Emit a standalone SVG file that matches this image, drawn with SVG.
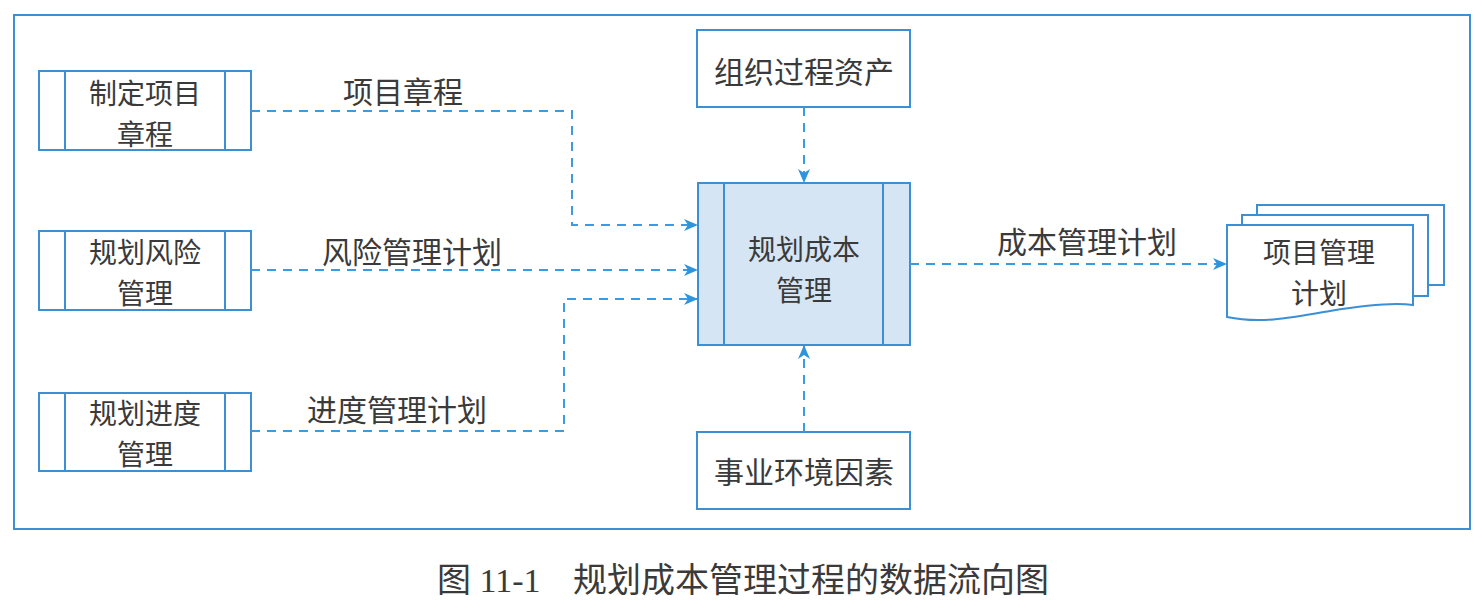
<svg xmlns="http://www.w3.org/2000/svg" width="1483" height="606" viewBox="0 0 1483 606">
<defs>
<style>
.frame{fill:none;stroke:#3c8fd2;stroke-width:2}
.box{fill:#fff;stroke:#3c8fd2;stroke-width:2}
.cbox{fill:#d6e5f4;stroke:#3c8fd2;stroke-width:2}
.ln{fill:none;stroke:#3c8fd2;stroke-width:2}
.t{font-family:"Noto Sans CJK SC","Noto Sans",sans-serif;font-size:28px;fill:#3a3a3a;text-anchor:middle;dominant-baseline:central}
.lab{font-family:"Noto Sans CJK SC","Noto Sans",sans-serif;font-size:30px;fill:#3a3a3a;text-anchor:middle;dominant-baseline:central}
.cap{font-family:"Liberation Serif","Noto Sans CJK SC",serif;font-size:34px;fill:#3a3a3a;dominant-baseline:central}
.conn{fill:none;stroke:#3b9be0;stroke-width:2;stroke-dasharray:9,7}
</style>
<marker id="ah" markerWidth="14" markerHeight="12" refX="13" refY="6" orient="auto" markerUnits="userSpaceOnUse">
<path d="M0,0 L14,6 L0,12 L4,6 Z" fill="#2e95dc"/>
</marker>
</defs>
<rect width="1483" height="606" fill="#fff"/>
<rect class="frame" x="14" y="15" width="1456" height="514"/>

<g id="n1">
<rect class="box" x="39" y="71" width="212" height="79"/>
<line class="ln" x1="65" y1="71" x2="65" y2="150"/>
<line class="ln" x1="225" y1="71" x2="225" y2="150"/>
<text class="t" x="145" y="92">制定项目<tspan x="145" dy="41">章程</tspan></text>
</g>
<g id="n2">
<rect class="box" x="39" y="231" width="212" height="79"/>
<line class="ln" x1="65" y1="231" x2="65" y2="310"/>
<line class="ln" x1="225" y1="231" x2="225" y2="310"/>
<text class="t" x="145" y="251">规划风险<tspan x="145" dy="41">管理</tspan></text>
</g>
<g id="n3">
<rect class="box" x="39" y="393" width="212" height="78"/>
<line class="ln" x1="65" y1="393" x2="65" y2="471"/>
<line class="ln" x1="225" y1="393" x2="225" y2="471"/>
<text class="t" x="145" y="412">规划进度<tspan x="145" dy="41">管理</tspan></text>
</g>
<g id="n4">
<rect class="box" x="697" y="30" width="213" height="77"/>
<text class="t" x="804" y="70" style="font-size:30px">组织过程资产</text>
</g>
<g id="n5">
<rect class="cbox" x="698" y="183" width="212" height="162"/>
<line class="ln" x1="724" y1="183" x2="724" y2="345"/>
<line class="ln" x1="883" y1="183" x2="883" y2="345"/>
<text class="t" x="804" y="248">规划成本<tspan x="804" dy="41">管理</tspan></text>
</g>
<g id="n6">
<rect class="box" x="697" y="432" width="213" height="77"/>
<text class="t" x="804" y="470" style="font-size:30px">事业环境因素</text>
</g>
<g id="n7">
<rect class="box" x="1257" y="205" width="187" height="80"/>
<rect class="box" x="1242" y="215" width="186" height="81"/>
<path class="box" d="M1227,225 H1413 V305 C1390,302 1360,306 1330,311 C1290,318 1260,324 1227,317 Z"/>
<text class="t" x="1319" y="251">项目管理<tspan x="1319" dy="41">计划</tspan></text>
</g>

<g id="connectors">
<path class="conn" d="M251,111 H572 V225 H697" marker-end="url(#ah)"/>
<path class="conn" d="M251,270 H697" marker-end="url(#ah)"/>
<path class="conn" d="M251,431 H564 V299 H697" marker-end="url(#ah)"/>
<path class="conn" d="M804,107 V182" marker-end="url(#ah)"/>
<path class="conn" d="M804,432 V346" marker-end="url(#ah)"/>
<path class="conn" d="M910,264 H1226" marker-end="url(#ah)"/>
<text class="lab" x="403" y="90">项目章程</text>
<text class="lab" x="412" y="250">风险管理计划</text>
<text class="lab" x="397" y="408">进度管理计划</text>
<text class="lab" x="1087" y="240">成本管理计划</text>
</g>

<text class="cap" x="437" y="580">图 11-1<tspan x="573">规划成本管理过程的数据流向图</tspan></text>
</svg>
